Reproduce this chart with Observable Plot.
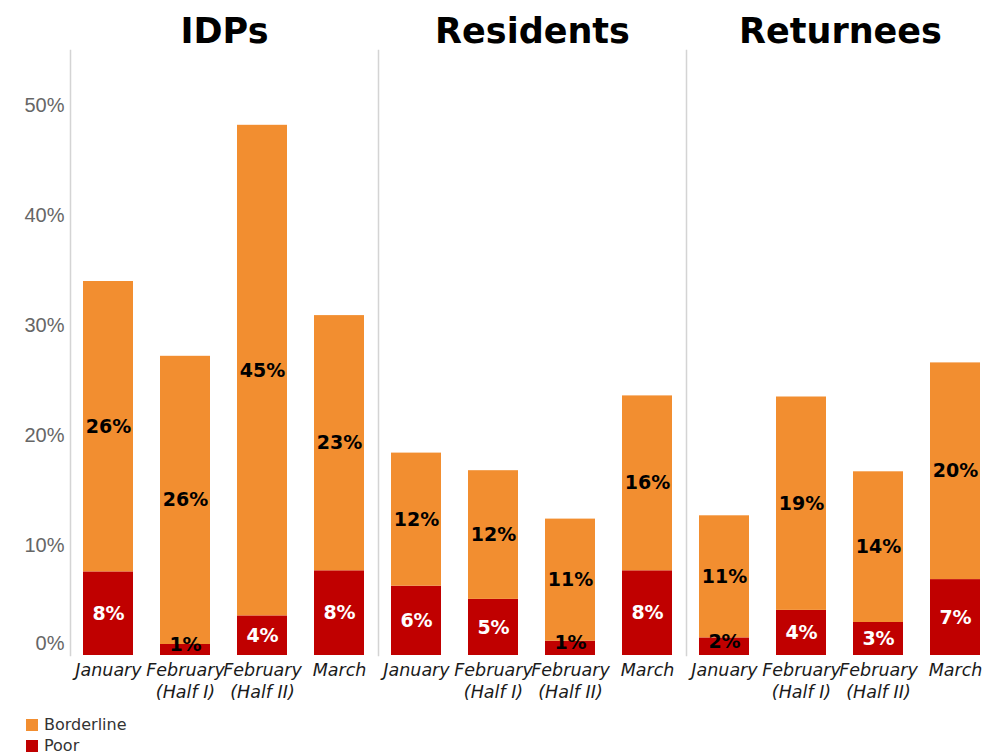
<!DOCTYPE html>
<html>
<head>
<meta charset="utf-8">
<script src="https://cdn.jsdelivr.net/npm/d3@7"></script>
<script src="https://cdn.jsdelivr.net/npm/@observablehq/plot@0.6"></script>
<style>
  html, body { margin: 0; padding: 0; background: #fff; overflow: hidden; }
  #wrap { width: 984px; overflow: hidden; }
  #chart svg { max-width: none !important; display: block; }
  #legend { font-family: "DejaVu Sans", sans-serif; font-size: 16px; color: #333; padding-left: 26px; margin-top: 4px; }
  .item { display: flex; align-items: center; height: 21px; }
  .sw { width: 12px; height: 12px; margin-right: 6px; }
  g[aria-label="x-axis tick label"] text { font-style: italic; }
</style>
</head>
<body>
<div id="wrap"><div id="chart"></div>
<div id="legend"></div></div>
<script>
const groups = ["IDPs", "Residents", "Returnees"];
const months = ["January", "February\n(Half I)", "February\n(Half II)", "March"];
const yTicks = [0, 10, 20, 30, 40, 50];

const poorIDPs = [7.6, 1.0, 3.6, 7.7];
const borderlineIDPs = [26.4, 26.2, 44.6, 23.2];
const poorResidents = [6.3, 5.1, 1.3, 7.7];
const borderlineResidents = [12.1, 11.7, 11.1, 15.9];
const poorReturnees = [1.6, 4.1, 3.0, 6.9];
const borderlineReturnees = [11.1, 19.4, 13.7, 19.7];

const types = ["Borderline", "Poor"];
const colors = ["#F28E30", "#C00000"];

const series = {
  IDPs: [poorIDPs, borderlineIDPs],
  Residents: [poorResidents, borderlineResidents],
  Returnees: [poorReturnees, borderlineReturnees]
};

const rows = [];
for (const g of groups) {
  const [p, b] = series[g];
  months.forEach((m, i) => {
    rows.push({group: g, month: m, type: "Poor", value: p[i], y1: 0, y2: p[i]});
    rows.push({group: g, month: m, type: "Borderline", value: b[i], y1: p[i], y2: p[i] + b[i]});
  });
}
const mid = d => (d.y1 + d.y2) / 2;
const lab = d => Math.round(d.value) + "%";
const borderRows = rows.filter(d => d.type === "Borderline");
const poorBig = rows.filter(d => d.type === "Poor" && d.value >= 2.5);
const poorSmall = rows.filter(d => d.type === "Poor" && d.value < 2.5);

const textOpts = {fx: "group", x: "month", text: lab, fontWeight: "bold", fontSize: 19, fontFamily: "DejaVu Sans"};

const chart = Plot.plot({
  width: 994,
  height: 710,
  marginLeft: 70,
  marginRight: 0,
  marginTop: 50,
  marginBottom: 55,
  style: {fontFamily: "DejaVu Sans", background: "#fff"},
  fx: {domain: groups, padding: 0, label: null},
  x: {domain: months, paddingInner: 0.35, paddingOuter: 0.175, label: null},
  y: {domain: [0, 55], label: null},
  color: {domain: types, range: colors},
  marks: [
    Plot.frame({anchor: "left", stroke: "#d4d4d4", strokeWidth: 1.5}),
    Plot.barY(rows, {fx: "group", x: "month", y1: "y1", y2: "y2", fill: "type"}),
    Plot.text(borderRows, {...textOpts, y: mid, fill: "#000"}),
    Plot.text(poorBig, {...textOpts, y: mid, fill: "#fff"}),
    Plot.text(poorSmall, {...textOpts, y: mid, dy: -5, fill: "#000"}),
    Plot.axisY({ticks: yTicks.filter(t => t > 0), tickFormat: d => d + "%", tickSize: 0, tickPadding: 6,
      fontSize: 20, fontFamily: "Liberation Sans", fill: "#666", label: null}),
    Plot.axisY({ticks: [0], tickFormat: d => d + "%", tickSize: 0, tickPadding: 6, dy: -12,
      fontSize: 20, fontFamily: "Liberation Sans", fill: "#666", label: null}),
    Plot.axisX({tickSize: 0, tickPadding: 5, fontSize: 17.5, fontStyle: "italic", lineHeight: 1.25,
      fill: "#1a1a1a", label: null}),
    Plot.axisFx({anchor: "top", tickSize: 0, tickPadding: 8, fontSize: 35, fontWeight: "bold",
      fill: "#000", label: null})
  ]
});
document.getElementById("chart").appendChild(chart);

const legend = document.getElementById("legend");
types.forEach((t, i) => {
  const it = document.createElement("div");
  it.className = "item";
  it.innerHTML = `<span class="sw" style="background:${colors[i]}"></span><span>${t}</span>`;
  legend.appendChild(it);
});
</script>
</body>
</html>
